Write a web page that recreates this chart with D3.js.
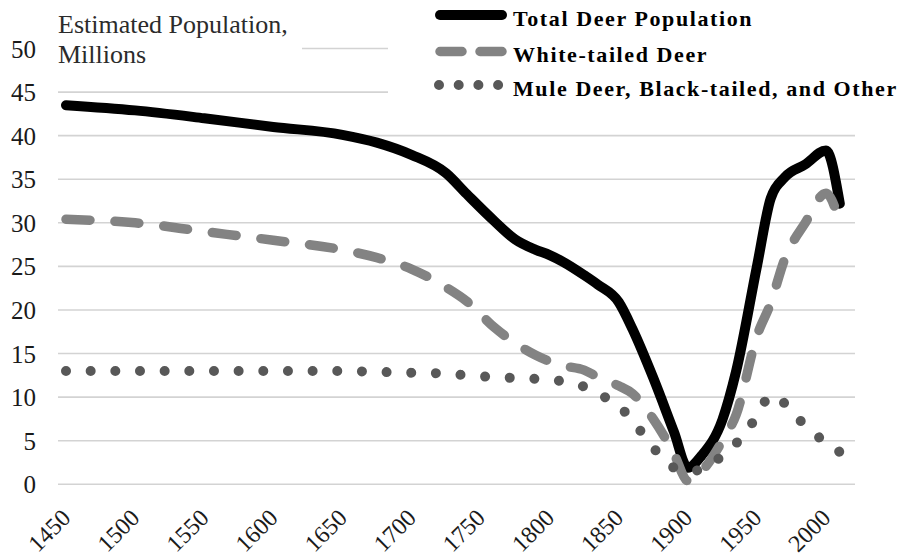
<!DOCTYPE html>
<html>
<head>
<meta charset="utf-8">
<script src="https://cdn.jsdelivr.net/npm/d3@7"></script>
<style>
  body { margin: 0; background: #fff; }
  svg text { font-family: "Liberation Serif", "Times New Roman", serif; }
</style>
</head>
<body>
<svg id="myGraph" width="904" height="556"></svg>
<script>
// data
var years = [1450, 1500, 1550, 1600, 1650, 1675, 1700, 1725, 1740, 1760, 1775, 1790, 1800, 1810, 1825, 1835,
             1850, 1860, 1875, 1890, 1900, 1910, 1925, 1935, 1950, 1960, 1970, 1985, 2000, 2010];
var totalPop = [43.5, 42.9, 42.0, 41.0, 40.1, 39.2, 37.8, 35.7, 33.3, 30.2, 28.1, 26.9, 26.3, 25.5, 24.0, 22.9,
                20.9, 17.8, 12.2, 6.0, 1.9, 3.3, 7.4, 13.0, 25.0, 32.8, 35.2, 36.7, 38.3, 32.2];
var whiteTailed = [30.4, 30.0, 29.0, 28.0, 26.9, 26.0, 24.7, 22.6, 21.0, 18.0, 16.2, 14.8, 14.1, 13.6, 13.1, 12.3,
                   11.3, 10.4, 7.5, 3.5, 0.4, 1.5, 5.0, 8.0, 17.0, 20.8, 25.8, 30.0, 33.4, 30.0];
var muleOther = [13.0, 13.0, 13.0, 13.0, 13.0, 12.9, 12.8, 12.7, 12.5, 12.3, 12.2, 12.1, 12.0, 11.8, 11.2, 10.4,
                 9.0, 7.3, 4.2, 1.9, 1.5, 1.7, 3.3, 4.7, 7.8, 10.2, 9.3, 6.7, 4.8, 3.7];
var yTicks = [0, 5, 10, 15, 20, 25, 30, 35, 40, 45, 50];
var xTicks = [1450, 1500, 1550, 1600, 1650, 1700, 1750, 1800, 1850, 1900, 1950, 2000];
var legendNames = ["Total Deer Population", "White-tailed Deer", "Mule Deer, Black-tailed, and Other"];
var titleLines = ["Estimated Population,", "Millions"];

var svg = d3.select("#myGraph");
const PLOT_LEFT = 58;
const PLOT_RIGHT = 855;
const DOT_GAP = 25;

// scales
var xscale = d3.scaleLinear().domain([1450, 2000]).range([66, 826]);
var yscale = d3.scaleLinear().domain([0, 50]).range([484.3, 48.5]);

// gridlines
svg.append("g")
  .attr("class", "grid")
  .selectAll("line")
  .data(yTicks)
  .enter()
  .append("line")
  .attr("x1", PLOT_LEFT)
  .attr("x2", PLOT_RIGHT)
  .attr("y1", function(d){ return yscale(d); })
  .attr("y2", function(d){ return yscale(d); })
  .attr("stroke", "#d3d3d3")
  .attr("stroke-width", 1.6);

// y axis labels
var axisY = svg.append("g")
  .attr("transform", "translate(36,0)")
  .call(d3.axisLeft(yscale).tickValues(yTicks).tickSize(0).tickPadding(0));
axisY.select(".domain").remove();
axisY.selectAll("text")
  .attr("font-family", "Liberation Serif")
  .attr("font-size", 25)
  .attr("fill", "#1a1a1a")
  .attr("dy", "0.34em");

// x axis labels (rotated -45)
svg.append("g")
  .attr("class", "axisX")
  .selectAll("text")
  .data(xTicks)
  .enter()
  .append("text")
  .attr("transform", function(d){
    return "translate(" + (xscale(d) + 6) + "," + (yscale(0) + 35) + ") rotate(-45)";
  })
  .attr("text-anchor", "end")
  .attr("font-size", 24)
  .attr("fill", "#1a1a1a")
  .text(function(d){ return d; });

// lines
var line = function(vals){
  return d3.line()
    .x(function(d, i){ return xscale(years[i]); })
    .y(function(d){ return yscale(d); })
    .curve(d3.curveMonotoneX)(vals);
};

svg.append("path")
  .attr("d", line(totalPop))
  .attr("fill", "none")
  .attr("stroke", "#000")
  .attr("stroke-width", 10)
  .attr("stroke-linecap", "round")
  .attr("stroke-linejoin", "round");

svg.append("path")
  .attr("d", line(whiteTailed))
  .attr("fill", "none")
  .attr("stroke", "#838383")
  .attr("stroke-width", 9.5)
  .attr("stroke-linecap", "round")
  .attr("stroke-dasharray", "24,25");

var mulePath = svg.append("path")
  .attr("d", line(muleOther))
  .attr("fill", "none")
  .attr("stroke", "#585858")
  .attr("stroke-width", 10)
  .attr("stroke-linecap", "round");
// spread the dots so one lands on each end
var muleLen = mulePath.node().getTotalLength();
var dotCount = Math.round(muleLen / DOT_GAP);
var dotStep = (muleLen - 1) / dotCount;
mulePath.attr("stroke-dasharray", "0.01," + (dotStep - 0.01));

// title box
svg.append("rect")
  .attr("x", 54).attr("y", 4).attr("width", 248).attr("height", 68)
  .attr("fill", "#fff");
svg.append("g")
  .selectAll("text")
  .data(titleLines)
  .enter()
  .append("text")
  .attr("x", 58)
  .attr("y", function(d, i){ return 33 + i * 29.5; })
  .attr("font-size", 26)
  .attr("fill", "#2b2b2b")
  .text(function(d){ return d; });

// legend
svg.append("rect")
  .attr("x", 388).attr("y", 0).attr("width", 516).attr("height", 100)
  .attr("fill", "#fff");
var legendY = [15, 51.5, 85];
var legendStyle = [
  {stroke: "#000", dash: null, width: 10},
  {stroke: "#838383", dash: "22,18", width: 9.5},
  {stroke: "#585858", dash: "0,19.7", width: 10}
];
var legend = svg.append("g").attr("class", "legend");
legend.selectAll("line")
  .data(legendNames)
  .enter()
  .append("line")
  .attr("x1", function(d, i){ return i == 2 ? 439 : 440; })
  .attr("x2", 502)
  .attr("y1", function(d, i){ return legendY[i]; })
  .attr("y2", function(d, i){ return legendY[i]; })
  .attr("stroke", function(d, i){ return legendStyle[i].stroke; })
  .attr("stroke-width", function(d, i){ return legendStyle[i].width; })
  .attr("stroke-linecap", "round")
  .attr("stroke-dasharray", function(d, i){ return legendStyle[i].dash; });
legend.selectAll("text")
  .data(legendNames)
  .enter()
  .append("text")
  .attr("x", 513)
  .attr("y", function(d, i){ return legendY[i] + 10.5; })
  .attr("font-size", 22)
  .attr("font-weight", "bold")
  .attr("letter-spacing", 1.6)
  .attr("fill", "#000")
  .text(function(d){ return d; });
</script>
</body>
</html>
